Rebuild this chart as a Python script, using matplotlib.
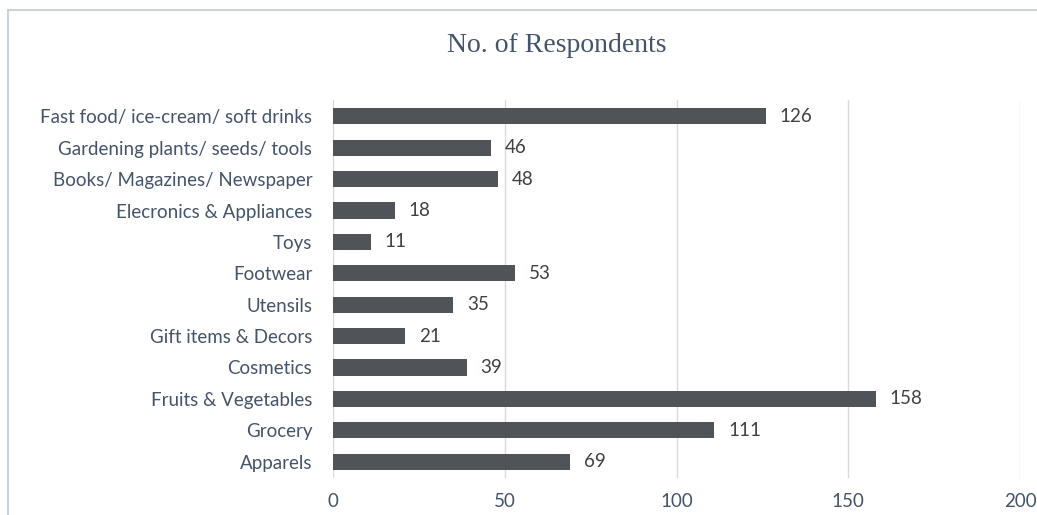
import matplotlib
matplotlib.use("Agg")
import matplotlib.pyplot as plt
from matplotlib.patches import Rectangle

# respondents per product category, top to bottom
categories = [
    "Fast food/ ice-cream/ soft drinks",
    "Gardening plants/ seeds/ tools",
    "Books/ Magazines/ Newspaper",
    "Elecronics & Appliances",
    "Toys",
    "Footwear",
    "Utensils",
    "Gift items & Decors",
    "Cosmetics",
    "Fruits & Vegetables",
    "Grocery",
    "Apparels",
]
respondents = [126, 46, 48, 18, 11, 53, 35, 21, 39, 158, 111, 69]
xticks = [0, 50, 100, 150, 200]

label_color = "#44546a"
bar_color = "#505357"

fig = plt.figure(figsize=(10.37, 5.15), dpi=100)
fig.patch.set_facecolor("white")

# chart frame
fig.patches.append(Rectangle((8 / 1037, -0.05), 1.1, 1 - 10 / 515 + 0.05,
                             transform=fig.transFigure, fill=False,
                             edgecolor="#c9d1da", linewidth=1.5))

ax = fig.add_axes([333 / 1037, 1 - 478 / 515, (1020 - 333) / 1037, (478 - 100) / 515])
ypos = list(range(len(categories)))
ax.barh(ypos, respondents, height=0.52, color=bar_color, zorder=3)

for y, v in zip(ypos, respondents):
    ax.text(v + 4, y, str(v), va="center", ha="left", fontsize=13.5,
            color="#404040", family="Lato")

ax.set_xlim(0, 200)
ax.set_ylim(11.52, -0.52)
ax.set_xticks(xticks)
ax.set_xticklabels([str(t) for t in xticks], fontsize=13.5, color=label_color, family="Lato")
ax.set_yticks(ypos)
ax.set_yticklabels(categories, fontsize=13.5, color=label_color, family="Lato")
ax.tick_params(axis="both", length=0)
ax.tick_params(axis="x", pad=11)
ax.tick_params(axis="y", pad=15)
ax.grid(axis="x", color="#d9d9d9", linewidth=1, zorder=0)
for s in ax.spines.values():
    s.set_visible(False)

fig.text(557 / 1037, 1 - 45 / 515, "No. of Respondents", ha="center", va="center",
         fontsize=20, color=label_color, family="Liberation Serif")

fig.savefig("out.png", dpi=100)
